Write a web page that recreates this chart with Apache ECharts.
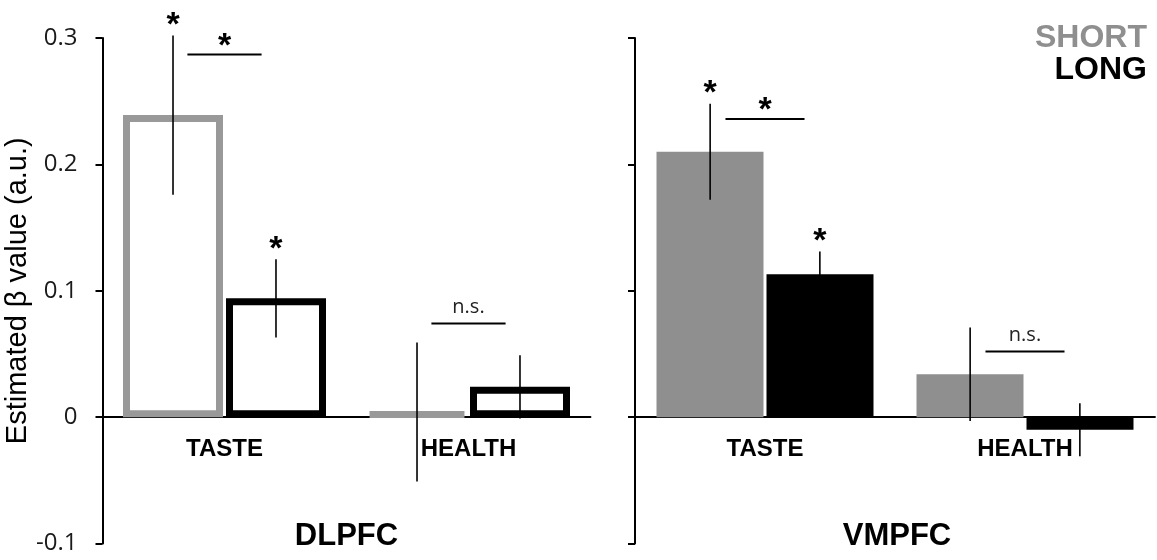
<!DOCTYPE html>
<html><head><meta charset="utf-8">
<script src="https://cdn.jsdelivr.net/npm/echarts@6/dist/echarts.min.js"></script>
<style>html,body{margin:0;padding:0;background:#fff}#c{width:1157px;height:560px}</style>
</head><body><div id="c"></div>
<script>
// ---- data ----
const categories = ['TASTE', 'HEALTH'];
const panels = ['DLPFC', 'VMPFC'];
const seriesNames = ['SHORT', 'LONG'];
const yTickLabels = ['-0.1', '0', '0.1', '0.2', '0.3'];

const dlpfcShort = [0.239, 0.004];
const dlpfcLong = [0.094, 0.024];
const dlpfcShortErr = [0.063, 0.055];
const dlpfcLongErr = [0.031, 0.025];
const dlpfcShortSig = ['*', ''];
const dlpfcLongSig = ['*', ''];
const dlpfcBracketY = [0.287, 0.074];
const dlpfcBracketLabel = ['*', 'n.s.'];

const vmpfcShort = [0.210, 0.034];
const vmpfcLong = [0.113, -0.010];
const vmpfcShortErr = [0.038, 0.037];
const vmpfcLongErr = [0.018, 0.021];
const vmpfcShortSig = ['*', ''];
const vmpfcLongSig = ['*', ''];
const vmpfcBracketY = [0.236, 0.052];
const vmpfcBracketLabel = ['*', 'n.s.'];

// ---- styles ----
const GRAY = '#8f8f8f';
const FONT = '"Liberation Sans", Arial, sans-serif';
const TICKFONT = '"Open Sans", "Liberation Sans", sans-serif';
const STAR = { fontSize: 34, fontWeight: 'bold', fontFamily: FONT, fill: '#000', align: 'center', verticalAlign: 'middle' };

function errRender(side, sig) {
  return function (params, api) {
    const cat = api.value(0), v = api.value(1), e = api.value(2);
    const band = api.size([1, 0])[0];
    const off = side * 0.211 * band;
    const top = api.coord([cat, v + e]);
    const bot = api.coord([cat, v - e]);
    const x = top[0] + off;
    const children = [{
      type: 'line',
      shape: { x1: x, y1: top[1], x2: x, y2: bot[1] },
      style: { stroke: '#000', lineWidth: 1.6 }
    }];
    const lab = sig[params.dataIndex];
    if (lab) {
      children.push({ type: 'text', x: x, y: top[1] - 10, style: Object.assign({ text: lab }, STAR) });
    }
    return { type: 'group', children: children };
  };
}

function bracketRender(labels) {
  return function (params, api) {
    const cat = api.value(0), y = api.value(1);
    const band = api.size([1, 0])[0];
    const c = api.coord([cat, y]);
    const lab = labels[params.dataIndex];
    const star = lab === '*';
    return {
      type: 'group',
      children: [{
        type: 'line',
        shape: { x1: c[0] - 0.152 * band, y1: c[1], x2: c[0] + 0.152 * band, y2: c[1] },
        style: { stroke: '#000', lineWidth: 2 }
      }, {
        type: 'text', x: c[0], y: star ? c[1] - 8 : c[1] - 16,
        style: star
          ? Object.assign({ text: lab }, STAR)
          : { text: lab, fontSize: 20, fontFamily: TICKFONT, fill: '#222', align: 'center', verticalAlign: 'middle' }
      }]
    };
  };
}

// category labels drawn just below the zero line
function catLabelRender(params, api) {
  const c = api.coord([api.value(0), 0]);
  return {
    type: 'text', x: c[0], y: c[1] + 32,
    style: { text: categories[params.dataIndex], fontSize: 24, fontWeight: 'bold', fontFamily: FONT, fill: '#000', align: 'center', verticalAlign: 'middle' }
  };
}

function xAxisFor(gi) {
  return {
    type: 'category', gridIndex: gi, data: categories,
    axisLine: { onZero: true, lineStyle: { color: '#000', width: 1.8 } },
    axisTick: { show: false },
    axisLabel: { show: false }
  };
}
function yAxisFor(gi, showLabels) {
  return {
    type: 'value', gridIndex: gi, min: -0.1, max: 0.3, interval: 0.1,
    splitLine: { show: false },
    axisLine: { show: true, lineStyle: { color: '#000', width: 2 } },
    axisTick: { show: true, length: 7, lineStyle: { color: '#000', width: 2 } },
    axisLabel: {
      show: showLabels, color: '#1a1a1a', fontSize: 24, fontFamily: TICKFONT, margin: 25,
      formatter: function (v) { return yTickLabels[Math.round((v + 0.1) / 0.1)]; }
    },
    name: showLabels ? 'Estimated β value (a.u.)' : '',
    nameLocation: 'middle', nameRotate: 90, nameGap: 59,
    nameTextStyle: { color: '#000', fontSize: 29, fontFamily: FONT }
  };
}

const idx = categories.map((c, i) => i);
const option = {
  animation: false,
  backgroundColor: '#fff',
  grid: [
    { left: 102.5, width: 488, top: 38, height: 505.5, containLabel: false, outerBoundsMode: 'none' },
    { left: 635, width: 520, top: 38, height: 505.5, containLabel: false, outerBoundsMode: 'none' }
  ],
  xAxis: [xAxisFor(0), xAxisFor(1)],
  yAxis: [yAxisFor(0, true), yAxisFor(1, false)],
  graphic: [
    { type: 'text', x: 346.5, y: 536, style: { text: panels[0], fontSize: 31, fontWeight: 'bold', fontFamily: FONT, fill: '#000', align: 'center', verticalAlign: 'middle' } },
    { type: 'text', x: 897, y: 536, style: { text: panels[1], fontSize: 31, fontWeight: 'bold', fontFamily: FONT, fill: '#000', align: 'center', verticalAlign: 'middle' } },
    { type: 'text', x: 1147, y: 38, style: { text: seriesNames[0], fontSize: 32, fontWeight: 'bold', fontFamily: FONT, fill: GRAY, align: 'right', verticalAlign: 'middle' } },
    { type: 'text', x: 1147, y: 70, style: { text: seriesNames[1], fontSize: 32, fontWeight: 'bold', fontFamily: FONT, fill: '#000', align: 'right', verticalAlign: 'middle' } }
  ],
  series: [
    { type: 'bar', name: seriesNames[0], xAxisIndex: 0, yAxisIndex: 0, data: dlpfcShort, barWidth: 100, barGap: '3%',
      itemStyle: { color: '#fff', borderColor: '#999', borderWidth: 7 } },
    { type: 'bar', name: seriesNames[1], xAxisIndex: 0, yAxisIndex: 0, data: dlpfcLong, barWidth: 100, barGap: '3%',
      itemStyle: { color: '#fff', borderColor: '#000', borderWidth: 7 } },
    { type: 'bar', name: seriesNames[0], xAxisIndex: 1, yAxisIndex: 1, data: vmpfcShort, barWidth: 107, barGap: '2.8%',
      itemStyle: { color: GRAY } },
    { type: 'bar', name: seriesNames[1], xAxisIndex: 1, yAxisIndex: 1, data: vmpfcLong, barWidth: 107, barGap: '2.8%',
      itemStyle: { color: '#000' } },
    { type: 'custom', xAxisIndex: 0, yAxisIndex: 0, z: 5, renderItem: errRender(-1, dlpfcShortSig),
      data: idx.map(i => [i, dlpfcShort[i], dlpfcShortErr[i]]) },
    { type: 'custom', xAxisIndex: 0, yAxisIndex: 0, z: 5, renderItem: errRender(1, dlpfcLongSig),
      data: idx.map(i => [i, dlpfcLong[i], dlpfcLongErr[i]]) },
    { type: 'custom', xAxisIndex: 1, yAxisIndex: 1, z: 5, renderItem: errRender(-1, vmpfcShortSig),
      data: idx.map(i => [i, vmpfcShort[i], vmpfcShortErr[i]]) },
    { type: 'custom', xAxisIndex: 1, yAxisIndex: 1, z: 5, renderItem: errRender(1, vmpfcLongSig),
      data: idx.map(i => [i, vmpfcLong[i], vmpfcLongErr[i]]) },
    { type: 'custom', xAxisIndex: 0, yAxisIndex: 0, z: 5, renderItem: bracketRender(dlpfcBracketLabel),
      data: idx.map(i => [i, dlpfcBracketY[i]]) },
    { type: 'custom', xAxisIndex: 1, yAxisIndex: 1, z: 5, renderItem: bracketRender(vmpfcBracketLabel),
      data: idx.map(i => [i, vmpfcBracketY[i]]) },
    { type: 'custom', xAxisIndex: 0, yAxisIndex: 0, z: 5, renderItem: catLabelRender, data: idx.map(i => [i]) },
    { type: 'custom', xAxisIndex: 1, yAxisIndex: 1, z: 5, renderItem: catLabelRender, data: idx.map(i => [i]) }
  ]
};
const chart = echarts.init(document.getElementById('c'));
chart.setOption(option);
</script>
</body></html>
